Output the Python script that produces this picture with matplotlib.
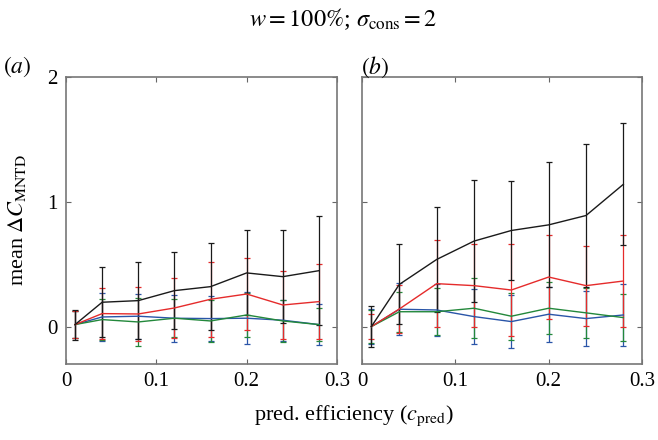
import matplotlib
matplotlib.use("Agg")
import matplotlib.pyplot as plt
import numpy as np

plt.rcParams['font.family'] = ['Liberation Serif', 'DejaVu Serif']
plt.rcParams['mathtext.fontset'] = 'stix'

x = [0.01, 0.04, 0.08, 0.12, 0.16, 0.20, 0.24, 0.28]

# Panel (a)
a_black = [0.016, 0.195, 0.208, 0.288, 0.320, 0.430, 0.400, 0.448]
a_black_err = [0.12, 0.28, 0.307, 0.31, 0.35, 0.34, 0.37, 0.437]
a_red = [0.016, 0.104, 0.101, 0.149, 0.219, 0.261, 0.173, 0.200]
a_red_err = [0.11, 0.205, 0.216, 0.24, 0.30, 0.29, 0.275, 0.30]
a_blue = [0.016, 0.077, 0.083, 0.067, 0.064, 0.067, 0.051, 0.016]
a_blue_err = [0.11, 0.19, 0.18, 0.19, 0.18, 0.21, 0.165, 0.165]
a_green = [0.016, 0.056, 0.037, 0.067, 0.045, 0.093, 0.045, 0.016]
a_green_err = [0.11, 0.165, 0.19, 0.15, 0.17, 0.18, 0.17, 0.13]

# Panel (b)
b_black = [0.0, 0.338, 0.538, 0.685, 0.770, 0.815, 0.890, 1.140]
b_black_err = [0.167, 0.32, 0.42, 0.49, 0.40, 0.50, 0.57, 0.49]
b_red = [0.0, 0.141, 0.344, 0.328, 0.293, 0.397, 0.328, 0.365]
b_red_err = [0.1, 0.19, 0.35, 0.33, 0.365, 0.34, 0.32, 0.365]
b_blue = [0.0, 0.139, 0.133, 0.080, 0.040, 0.099, 0.064, 0.093]
b_blue_err = [0.14, 0.21, 0.21, 0.22, 0.21, 0.22, 0.22, 0.25]
b_green = [0.0, 0.119, 0.119, 0.147, 0.083, 0.147, 0.110, 0.072]
b_green_err = [0.13, 0.16, 0.19, 0.24, 0.19, 0.21, 0.20, 0.19]

xticks = [0, 0.1, 0.2, 0.3]
xticklabels = ['0', '0.1', '0.2', '0.3']
yticks = [0, 1, 2]
yticklabels = ['0', '1', '2']

c_black = '#1a1a1a'
c_red = '#e52b2b'
c_blue = '#2a55a8'
c_green = '#23883b'

fig = plt.figure(figsize=(6.58, 4.40), dpi=100)
axA = fig.add_axes([0.1003, 0.1727, 0.4119, 0.6523])
axB = fig.add_axes([0.5502, 0.1727, 0.4255, 0.6523])

def draw(ax, series, xmax):
    for ys, es, col in series:
        ax.errorbar(x, ys, yerr=es, color=col, lw=1.0, elinewidth=0.9,
                    capsize=2.2, capthick=0.9)
    ax.set_xlim(0, xmax)
    ax.set_ylim(-0.3, 2)
    ax.set_xticks(xticks)
    ax.set_xticklabels(xticklabels)
    ax.set_yticks(yticks)
    ax.tick_params(direction='in', top=True, right=True, length=3.5,
                   width=0.8, color='#666666', labelsize=15, pad=6)
    for s in ax.spines.values():
        s.set_color('#777777')
        s.set_linewidth(1.2)

draw(axA, [(a_blue, a_blue_err, c_blue), (a_green, a_green_err, c_green),
           (a_red, a_red_err, c_red), (a_black, a_black_err, c_black)], 0.3)
axA.set_yticklabels(yticklabels)
draw(axB, [(b_blue, b_blue_err, c_blue), (b_green, b_green_err, c_green),
           (b_red, b_red_err, c_red), (b_black, b_black_err, c_black)], 0.298)
axB.set_yticklabels([])

axA.set_ylabel(r'mean $\Delta C_{\mathrm{MNTD}}$', fontsize=16, labelpad=14)

fig.text(0.522, 0.957, r'$w = 100\%$; $\sigma_{\mathrm{cons}} = 2$', ha='center',
         va='center', fontsize=17.5)
fig.text(0.005, 0.848, r'$(a)$', ha='left', va='center', fontsize=17)
fig.text(0.549, 0.848, r'$(b)$', ha='left', va='center', fontsize=17)
fig.text(0.538, 0.055, r'pred. efficiency ($c_{\mathrm{pred}}$)', ha='center',
         va='center', fontsize=16)

fig.savefig('out.png', dpi=100)
